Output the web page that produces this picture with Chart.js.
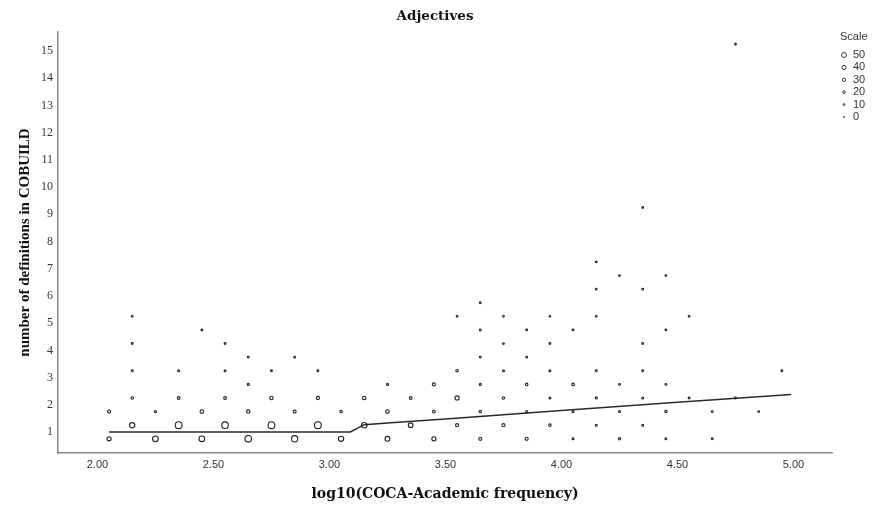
<!DOCTYPE html>
<html>
<head>
<meta charset="utf-8">
<title>Adjectives</title>
<script src="https://cdn.jsdelivr.net/npm/chart.js@4.4.1/dist/chart.umd.min.js"></script>
<style>
  html, body { margin: 0; padding: 0; background: #fff; }
</style>
</head>
<body>
<canvas id="chart" width="878" height="510"></canvas>
<script>
// binned points: one column per x bin, rows and counts
const columnX = [2.05, 2.15, 2.25, 2.35, 2.45, 2.55, 2.65, 2.75, 2.85, 2.95,
                 3.05, 3.15, 3.25, 3.35, 3.45, 3.55, 3.65, 3.75, 3.85, 3.95,
                 4.05, 4.15, 4.25, 4.35, 4.45, 4.55, 4.65, 4.75, 4.85, 4.95];
const columnY = [
  [0.75, 1.75], [1.25, 2.25, 3.25, 4.25, 5.25], [0.75, 1.75], [1.25, 2.25, 3.25],
  [0.75, 1.75, 4.75], [1.25, 2.25, 3.25, 4.25], [0.75, 1.75, 2.75, 3.75], [1.25, 2.25, 3.25],
  [0.75, 1.75, 3.75], [1.25, 2.25, 3.25], [0.75, 1.75], [1.25, 2.25],
  [0.75, 1.75, 2.75], [1.25, 2.25], [0.75, 1.75, 2.75], [1.25, 2.25, 3.25, 5.25],
  [0.75, 1.75, 2.75, 3.75, 4.75, 5.75], [1.25, 2.25, 3.25, 4.25, 5.25],
  [0.75, 1.75, 2.75, 3.75, 4.75], [1.25, 2.25, 3.25, 4.25, 5.25],
  [0.75, 1.75, 2.75, 4.75], [1.25, 2.25, 3.25, 5.25, 6.25, 7.25],
  [0.75, 1.75, 2.75, 6.75], [1.25, 2.25, 3.25, 4.25, 6.25, 9.25],
  [0.75, 1.75, 2.75, 4.75, 6.75], [2.25, 5.25], [0.75, 1.75], [2.25, 15.25], [1.75], [3.25]
];
const columnCount = [
  [25, 15], [35, 10, 3, 3, 2], [40, 5], [50, 12, 4],
  [40, 20, 3], [48, 12, 4, 3], [48, 18, 5, 2], [50, 18, 3],
  [45, 14, 2], [50, 16, 3], [35, 10], [38, 18],
  [32, 20, 4], [30, 12], [25, 12, 15], [15, 25, 10, 2],
  [15, 10, 4, 3, 3, 2], [15, 10, 5, 2, 2],
  [15, 6, 10, 3, 2], [10, 4, 4, 3, 2],
  [5, 5, 10, 2], [4, 6, 3, 2, 2, 2],
  [8, 4, 3, 2], [4, 4, 3, 3, 3, 2],
  [4, 8, 3, 2, 2], [3, 2], [3, 3], [3, 2], [3], [2]
];

// fit line
const fitX = [2.05, 3.09, 3.15, 3.25, 3.5, 4.0, 4.5, 4.99];
const fitY = [1.0, 1.0, 1.27, 1.33, 1.48, 1.79, 2.09, 2.38];

// ticks and legend
const xTicks = [2.0, 2.5, 3.0, 3.5, 4.0, 4.5, 5.0];
const yTicks = [1, 2, 3, 4, 5, 6, 7, 8, 9, 10, 11, 12, 13, 14, 15];
const legendSizes = [50, 40, 30, 20, 10, 0];

// flatten the columns into points
const points = [];
const counts = [];
columnX.forEach((x, i) => {
  columnY[i].forEach((y, j) => {
    points.push({ x: x, y: y });
    counts.push(columnCount[i][j]);
  });
});

const sizeFor = c => 0.75 + c * 0.053;

const serif = '"Liberation Serif", "Times New Roman", serif';
const wideSerif = '"DejaVu Serif", serif';
const sans = '"Liberation Sans", Arial, sans-serif';

// chart title and the "Scale" legend on the right
const extras = {
  id: 'extras',
  afterDraw(chart) {
    const ctx = chart.ctx;
    ctx.save();
    ctx.textBaseline = 'middle';
    ctx.textAlign = 'center';
    ctx.fillStyle = '#111';
    ctx.font = 'bold 13.5px ' + wideSerif;
    ctx.fillText('Adjectives', 435, 16);

    ctx.fillStyle = '#333';
    ctx.font = '11px ' + sans;
    ctx.textAlign = 'left';
    ctx.fillText('Scale', 840, 37);
    legendSizes.forEach((s, i) => {
      const y = 55 + i * 12.4;
      ctx.beginPath();
      ctx.arc(844, y, sizeFor(s) * 0.72, 0, Math.PI * 2);
      ctx.strokeStyle = '#333';
      ctx.lineWidth = 1;
      ctx.stroke();
      ctx.fillText(String(s), 853, y);
    });
    ctx.restore();
  }
};

new Chart(document.getElementById('chart'), {
  type: 'scatter',
  data: {
    datasets: [{
      label: 'Scale',
      data: points,
      pointRadius: ctx => sizeFor(counts[ctx.dataIndex]),
      pointBackgroundColor: 'rgba(0,0,0,0)',
      pointBorderColor: '#222',
      pointBorderWidth: 1.1
    }, {
      label: 'Fit',
      data: fitX.map((x, i) => ({ x: x, y: fitY[i] })),
      showLine: true,
      pointRadius: 0,
      borderColor: '#2a2a2a',
      borderWidth: 1.5,
      tension: 0
    }]
  },
  options: {
    responsive: false,
    animation: false,
    events: [],
    layout: { padding: { left: 0, right: 46, top: 32, bottom: 0 } },
    plugins: {
      legend: { display: false },
      tooltip: { enabled: false },
      title: { display: false }
    },
    scales: {
      x: {
        type: 'linear',
        min: 1.83,
        max: 5.166,
        grid: { display: false, drawTicks: false },
        border: { display: true, color: '#8c8c8c', width: 1.5 },
        afterBuildTicks: s => { s.ticks = xTicks.map(v => ({ value: v })); },
        ticks: {
          autoSkip: false,
          maxRotation: 0,
          padding: 5,
          color: '#333',
          font: { family: sans, size: 11 },
          callback: v => Number(v).toFixed(2)
        },
        title: {
          display: true,
          text: 'log10(COCA-Academic frequency)',
          color: '#111',
          font: { family: wideSerif, size: 14, weight: 'bold' },
          padding: { top: 4, bottom: 7 }
        },
        afterFit: s => { s.height = 57; }
      },
      y: {
        type: 'linear',
        min: 0.228,
        max: 15.7,
        grid: { display: false, drawTicks: false },
        border: { display: true, color: '#8c8c8c', width: 1.5 },
        afterBuildTicks: s => { s.ticks = yTicks.map(v => ({ value: v })); },
        ticks: {
          autoSkip: false,
          padding: 5,
          color: '#333',
          font: { family: serif, size: 12 },
          callback: v => String(v)
        },
        title: {
          display: true,
          text: 'number of definitions in COBUILD',
          color: '#111',
          font: { family: serif, size: 15, weight: 'bold' },
          padding: { top: 16, bottom: 0 }
        },
        afterFit: s => { s.width = 58; }
      }
    }
  },
  plugins: [extras]
});
</script>
</body>
</html>
